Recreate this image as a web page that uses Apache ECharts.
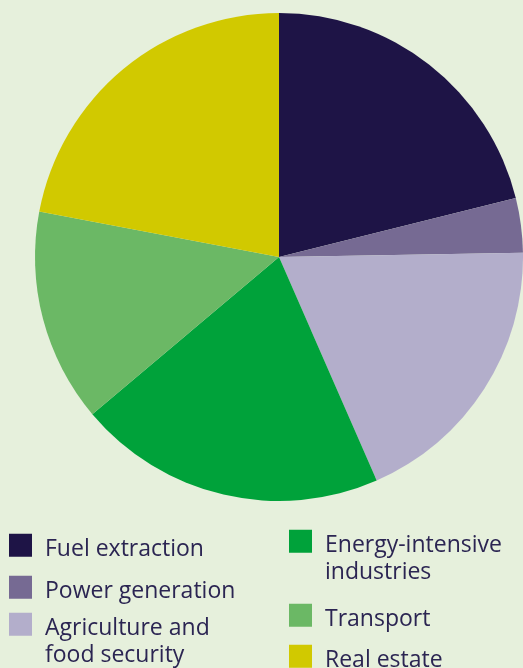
<!DOCTYPE html>
<html>
<head>
<meta charset="utf-8">
<script src="https://cdn.jsdelivr.net/npm/echarts@6/dist/echarts.min.js"></script>
<style>
  html, body { margin: 0; padding: 0; background: #e6f0dc; }
  #chart { width: 523px; height: 668px; }
</style>
</head>
<body>
<div id="chart"></div>
<script>
// Sector shares (percent)
const sectors = ['Fuel extraction', 'Power generation', 'Agriculture and food security',
                 'Energy-intensive industries', 'Transport', 'Real estate'];
const shares = [21.1, 3.6, 18.7, 20.4, 14.1, 22.0];
const colors = ['#1e1446', '#766a93', '#b3aecb', '#00a23a', '#6bb865', '#d1c900'];

// Legend text, with line breaks as displayed
const legendLines = {
  'Fuel extraction': ['Fuel extraction'],
  'Power generation': ['Power generation'],
  'Agriculture and food security': ['Agriculture and', 'food security'],
  'Energy-intensive industries': ['Energy-intensive', 'industries'],
  'Transport': ['Transport'],
  'Real estate': ['Real estate']
};

const FONT = 'Open Sans';
const FS = 23;
const LH = 27.5;
const SHIFT = 4;          // text sits slightly below the icon's centre
const textColor = '#2b2552';

// legend placement: [left, top of icon]
const legendPos = {
  'Fuel extraction': [9, 532],
  'Power generation': [9, 574],
  'Agriculture and food security': [9, 615],
  'Energy-intensive industries': [289, 532],
  'Transport': [289, 602],
  'Real estate': [289, 643]
};

function legendFor(name) {
  const lines = legendLines[name];
  const pos = legendPos[name];
  // multi-line items get a leading blank line so the icon sits beside the first line
  const multi = lines.length > 1;
  const blockH = (multi ? lines.length + 1 : 1) * LH;
  const top = pos[1] + 11.5 - blockH / 2;
  return {
    data: [name],
    left: pos[0],
    top: top,
    padding: 0,
    itemWidth: 23,
    itemHeight: 23,
    icon: 'rect',
    selectedMode: false,
    formatter: function () {
      const body = lines.map(l => '{t|' + l + '}').join('\n');
      return multi ? '{e| }\n' + body : body;
    },
    textStyle: {
      rich: {
        t: { fontFamily: FONT, fontSize: FS, lineHeight: LH, color: textColor, padding: [2 * SHIFT, 0, 0, 8] },
        e: { fontFamily: FONT, fontSize: FS, lineHeight: LH }
      }
    }
  };
}

const chart = echarts.init(document.getElementById('chart'), null, { renderer: 'canvas' });
chart.setOption({
  backgroundColor: '#e6f0dc',
  color: colors,
  animation: false,
  legend: sectors.map(legendFor),
  series: [{
    type: 'pie',
    center: [279, 257],
    radius: 244,
    startAngle: 90,
    clockwise: true,
    label: { show: false },
    labelLine: { show: false },
    emphasis: { disabled: true },
    itemStyle: { borderWidth: 0 },
    data: sectors.map((s, i) => ({ name: s, value: shares[i] }))
  }]
});
</script>
</body>
</html>
